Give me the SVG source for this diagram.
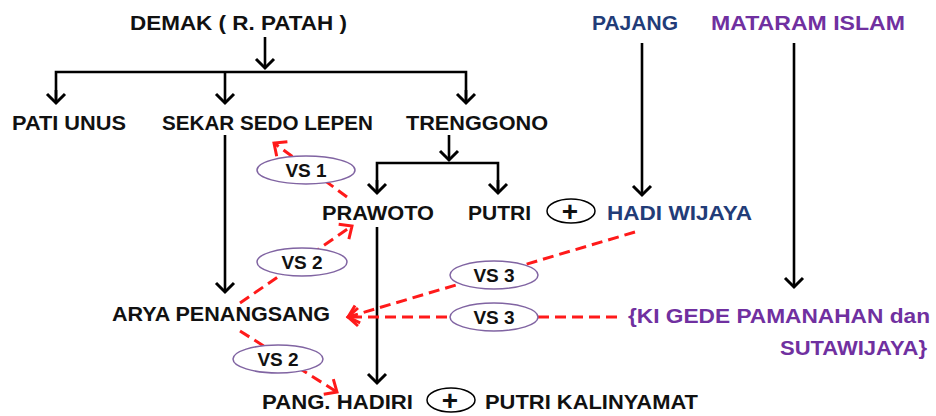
<svg xmlns="http://www.w3.org/2000/svg" width="936" height="416" viewBox="0 0 936 416">
<style>
text{font-family:"Liberation Sans",Arial,sans-serif;font-weight:bold;font-size:21px;fill:#111}
.t{lengthAdjust:spacingAndGlyphs}
.blue{fill:#223c78}
.purple{fill:#7030a0}
.plus{font-size:28px;text-anchor:middle}
.vs{font-size:19px;text-anchor:middle}
.ln{stroke:#000;stroke-width:2.6;fill:none}
.rd{stroke:#ff1a1a;stroke-width:3;fill:none;stroke-dasharray:11 6}
.ov{fill:#fff;stroke:#8064a2;stroke-width:1.5}
.pc{fill:#fff;stroke:#000;stroke-width:1.5}
</style>
<defs>
<marker id="ab" markerUnits="userSpaceOnUse" markerWidth="26" markerHeight="26" viewBox="-13 -13 26 26" refX="0" refY="0" orient="auto">
<path d="M-9,-9 L0,0 L-9,9" fill="none" stroke="#000" stroke-width="3"/>
</marker>
<marker id="ar" markerUnits="userSpaceOnUse" markerWidth="26" markerHeight="26" viewBox="-13 -13 26 26" refX="0" refY="0" orient="auto">
<path d="M-10,-9 L0,0 L-10,9" fill="none" stroke="#ff1a1a" stroke-width="3"/>
</marker>
</defs>
<g id="connectors">
<line class="ln" x1="265" y1="37" x2="265" y2="68" marker-end="url(#ab)"/>
<polyline class="ln" points="56,103 56,72 466,72 466,103"/>
<line class="ln" x1="56" y1="90" x2="56" y2="103" marker-end="url(#ab)"/>
<line class="ln" x1="225" y1="72" x2="225" y2="103" marker-end="url(#ab)"/>
<line class="ln" x1="466" y1="90" x2="466" y2="103" marker-end="url(#ab)"/>
<line class="ln" x1="225" y1="135" x2="225" y2="292" marker-end="url(#ab)"/>
<line class="ln" x1="449" y1="135" x2="449" y2="160" marker-end="url(#ab)"/>
<polyline class="ln" points="377,193 377,163 498,163 498,193"/>
<line class="ln" x1="377" y1="180" x2="377" y2="193" marker-end="url(#ab)"/>
<line class="ln" x1="498" y1="180" x2="498" y2="193" marker-end="url(#ab)"/>
<line class="ln" x1="642" y1="43" x2="642" y2="195" marker-end="url(#ab)"/>
<line class="ln" x1="794" y1="43" x2="794" y2="287" marker-end="url(#ab)"/>
<line class="ln" x1="377" y1="227" x2="377" y2="383" marker-end="url(#ab)"/>
<line class="rd" x1="347" y1="197" x2="274" y2="143" marker-end="url(#ar)"/>
<line class="rd" x1="240" y1="303" x2="352" y2="226" marker-end="url(#ar)"/>
<line class="rd" x1="240" y1="331" x2="337" y2="392" marker-end="url(#ar)"/>
<line class="rd" x1="635" y1="232" x2="348" y2="317" marker-end="url(#ar)"/>
<line class="rd" x1="617" y1="317" x2="348" y2="317" marker-end="url(#ar)"/>
</g>
<g id="vs1"><ellipse class="ov" cx="306" cy="170" rx="49" ry="14"/><text class="vs" x="306" y="177">VS 1</text></g>
<g id="vs2a"><ellipse class="ov" cx="302" cy="262" rx="45" ry="14"/><text class="vs" x="302" y="269">VS 2</text></g>
<g id="vs2b"><ellipse class="ov" cx="278" cy="359" rx="45" ry="14"/><text class="vs" x="278" y="366">VS 2</text></g>
<g id="vs3a"><ellipse class="ov" cx="494" cy="275" rx="44" ry="14"/><text class="vs" x="494" y="282">VS 3</text></g>
<g id="vs3b"><ellipse class="ov" cx="494" cy="317" rx="44" ry="14"/><text class="vs" x="494" y="324">VS 3</text></g>
<g id="demak"><text x="130" y="30" textLength="217" lengthAdjust="spacingAndGlyphs">DEMAK ( R. PATAH )</text></g>
<g id="pajang"><text class="blue" x="592" y="30" textLength="86" lengthAdjust="spacingAndGlyphs">PAJANG</text></g>
<g id="mataram"><text class="purple" x="711" y="30" textLength="194" lengthAdjust="spacingAndGlyphs">MATARAM ISLAM</text></g>
<g id="patiunus"><text x="12" y="130" textLength="114" lengthAdjust="spacingAndGlyphs">PATI UNUS</text></g>
<g id="sekar"><text x="162" y="130" textLength="211" lengthAdjust="spacingAndGlyphs">SEKAR SEDO LEPEN</text></g>
<g id="trenggono"><text x="406" y="130" textLength="142" lengthAdjust="spacingAndGlyphs">TRENGGONO</text></g>
<g id="prawoto"><text x="322" y="220" textLength="112" lengthAdjust="spacingAndGlyphs">PRAWOTO</text></g>
<g id="putri"><text x="468" y="220" textLength="63" lengthAdjust="spacingAndGlyphs">PUTRI</text></g>
<g id="plus1"><ellipse class="pc" cx="571" cy="211" rx="24" ry="12"/><text class="plus" x="570" y="221">+</text></g>
<g id="hadi"><text class="blue" x="607" y="220" textLength="145" lengthAdjust="spacingAndGlyphs">HADI WIJAYA</text></g>
<g id="arya"><text x="112" y="321" textLength="218" lengthAdjust="spacingAndGlyphs">ARYA PENANGSANG</text></g>
<g id="ki"><text class="purple" x="628" y="323" textLength="302" lengthAdjust="spacingAndGlyphs">{KI GEDE PAMANAHAN dan</text><text class="purple" x="780" y="355" textLength="147" lengthAdjust="spacingAndGlyphs">SUTAWIJAYA}</text></g>
<g id="hadiri"><text x="262" y="409" textLength="151" lengthAdjust="spacingAndGlyphs">PANG. HADIRI</text></g>
<g id="plus2"><ellipse class="pc" cx="451" cy="400" rx="24" ry="12"/><text class="plus" x="450" y="410">+</text></g>
<g id="kalinyamat"><text x="485" y="409" textLength="213" lengthAdjust="spacingAndGlyphs">PUTRI KALINYAMAT</text></g>
</svg>
